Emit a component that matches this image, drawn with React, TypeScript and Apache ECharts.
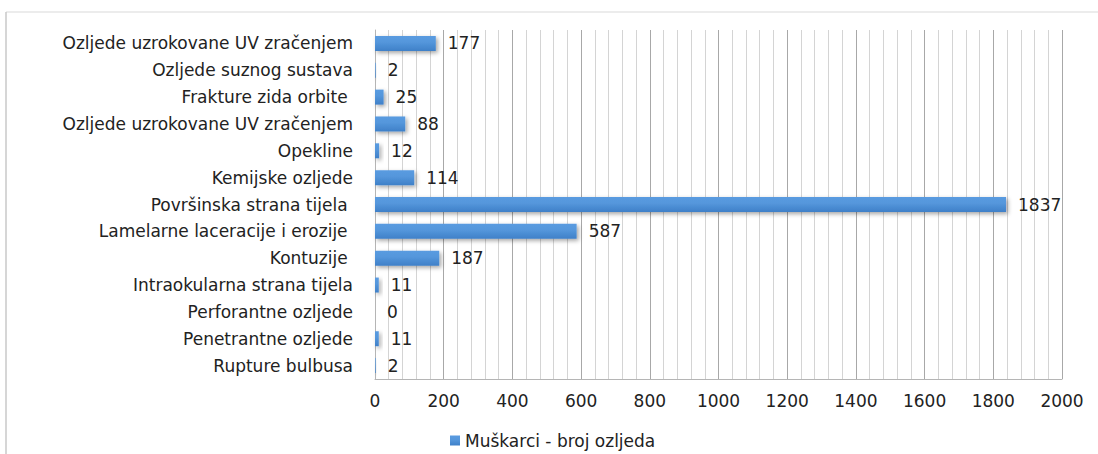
import React, { useEffect, useRef } from "react";
import * as echarts from "echarts";

const categories = [
  "Ozljede uzrokovane UV zračenjem",
  "Ozljede suznog sustava",
  "Frakture zida orbite ",
  "Ozljede uzrokovane UV zračenjem",
  "Opekline",
  "Kemijske ozljede",
  "Površinska strana tijela ",
  "Lamelarne laceracije i erozije ",
  "Kontuzije ",
  "Intraokularna strana tijela",
  "Perforantne ozljede",
  "Penetrantne ozljede",
  "Rupture bulbusa",
];
const values = [177, 2, 25, 88, 12, 114, 1837, 587, 187, 11, 0, 11, 2];
const seriesName = "Muškarci - broj ozljeda";
const xMin = 0;
const xMax = 2000;
const xInterval = 200;

const FONT = "DejaVu Sans";
const FS = 17;

export default function App() {
  const ref = useRef<HTMLDivElement>(null);
  useEffect(() => {
    if (!ref.current) return;
    const chart = echarts.init(ref.current, undefined, { renderer: "svg" });
    chart.setOption({
      animation: false,
      backgroundColor: "#ffffff",
      textStyle: { fontFamily: FONT },
      graphic: [
        { type: "line", shape: { x1: 6, y1: 12, x2: 1098, y2: 12 }, style: { stroke: "#d9d9d9", lineWidth: 1 } },
        { type: "line", shape: { x1: 6, y1: 12, x2: 6, y2: 454 }, style: { stroke: "#c8c8c8", lineWidth: 1.5 } },
      ],
      grid: { left: 375, right: 36, top: 30, bottom: 75, containLabel: false },
      legend: {
        data: [seriesName],
        left: 445,
        top: 427,
        icon: "rect",
        itemWidth: 10,
        itemHeight: 10,
        itemGap: 6,
        textStyle: { fontFamily: FONT, fontSize: FS, color: "#222" },
      },
      xAxis: {
        type: "value",
        min: xMin,
        max: xMax,
        interval: xInterval,
        axisLine: { show: true, lineStyle: { color: "#b5b5b5", width: 1 } },
        axisTick: { show: false },
        axisLabel: {
          margin: 13,
          fontFamily: FONT,
          fontSize: FS,
          color: "#222",
          formatter: (v: number) => String(v),
        },
        splitLine: { show: true, lineStyle: { color: "#a8a8a8", width: 1 } },
        minorTick: { show: false, splitNumber: 5 },
        minorSplitLine: { show: true, lineStyle: { color: "#d4d4d4", width: 1 } },
      },
      yAxis: {
        type: "category",
        data: categories,
        inverse: true,
        axisLine: { show: true, lineStyle: { color: "#b5b5b5", width: 1 } },
        axisTick: { show: false },
        axisLabel: { margin: 22, fontFamily: FONT, fontSize: FS, color: "#222" },
        splitLine: { show: false },
      },
      series: [
        {
          name: seriesName,
          type: "bar",
          data: values,
          barWidth: 15,
          itemStyle: {
            color: new echarts.graphic.LinearGradient(0, 0, 0, 1, [
              { offset: 0, color: "#5a9be0" },
              { offset: 0.4, color: "#5597dc" },
              { offset: 1, color: "#3f80c8" },
            ]),
            shadowColor: "rgba(0,0,0,0.35)",
            shadowBlur: 4,
            shadowOffsetX: 2,
            shadowOffsetY: 2,
          },
          label: {
            show: true,
            position: "right",
            distance: 12,
            fontFamily: FONT,
            fontSize: FS,
            color: "#222",
            formatter: (p: any) => String(p.value),
          },
        },
      ],
    });
    return () => chart.dispose();
  }, []);
  return (
    <div
      ref={ref}
      style={{ position: "fixed", left: 0, top: 0, width: 1098, height: 454 }}
    />
  );
}
